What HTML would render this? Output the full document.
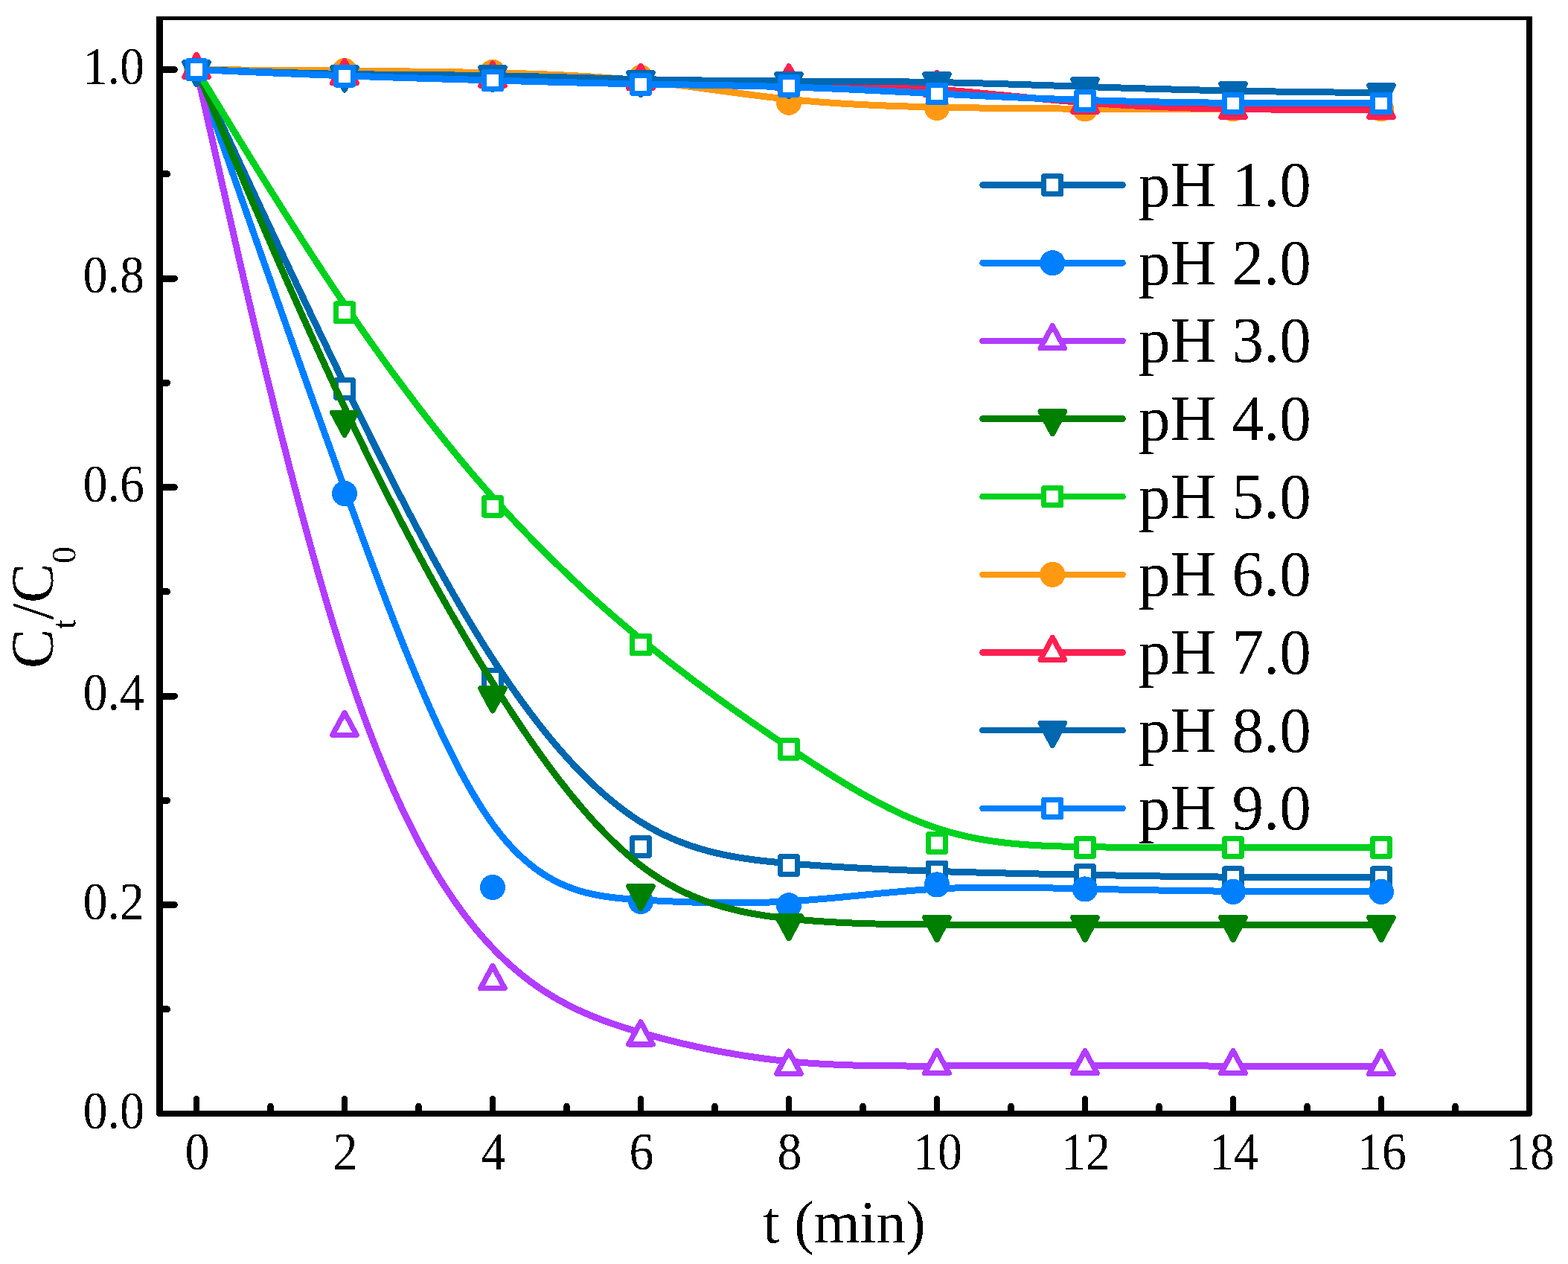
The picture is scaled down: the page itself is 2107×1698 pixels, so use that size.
<!DOCTYPE html>
<html lang="en"><head><meta charset="utf-8"><title>C_t/C_0 versus t (min) at pH 1.0 - 9.0</title>
<style>html,body{margin:0;padding:0;background:#fff;overflow:hidden}svg{display:block}text{font-family:"Liberation Serif",serif;fill:#000}</style>
</head><body>
<svg width="2107" height="1698" viewBox="0 0 2107 1698">
<defs><filter id="bw" x="-5%" y="-5%" width="110%" height="110%" color-interpolation-filters="sRGB"><feComponentTransfer><feFuncA type="discrete" tableValues="0 1"/></feComponentTransfer></filter></defs>
<rect width="2107" height="1698" fill="#fff"/>
<g id="plot" shape-rendering="crispEdges">
<g>
<path d="M264 93.5 L264 93.51 L264.02 93.54 L264.06 93.64 L264.15 93.83 L264.3 94.15 L264.52 94.62 L264.82 95.27 L265.23 96.15 L265.75 97.27 L266.4 98.67 L267.19 100.39 L268.15 102.44 L269.27 104.87 L270.58 107.7 L272.1 110.96 L273.83 114.69 L275.79 118.92 L277.99 123.68 L280.46 128.99 L283.19 134.89 L286.22 141.42 L289.55 148.59 L293.19 156.45 L297.17 165.03 L301.48 174.34 L306.13 184.35 L311.09 195.05 L316.36 206.39 L321.91 218.34 L327.74 230.86 L333.83 243.93 L340.16 257.51 L346.72 271.55 L353.5 286.04 L360.48 300.94 L367.65 316.21 L374.99 331.81 L382.48 347.72 L390.12 363.9 L397.9 380.32 L405.78 396.94 L413.77 413.73 L421.84 430.65 L429.99 447.68 L438.19 464.77 L446.44 481.9 L454.71 499.03 L463 516.12 L471.29 533.15 L479.58 550.1 L487.87 566.96 L496.17 583.73 L504.46 600.4 L512.75 616.95 L521.04 633.38 L529.33 649.67 L537.62 665.83 L545.92 681.83 L554.21 697.68 L562.5 713.36 L570.79 728.86 L579.08 744.17 L587.38 759.29 L595.67 774.21 L603.96 788.91 L612.25 803.39 L620.54 817.63 L628.83 831.64 L637.12 845.39 L645.42 858.89 L653.71 872.12 L662 885.07 L670.29 897.74 L678.58 910.11 L686.88 922.2 L695.17 933.99 L703.46 945.49 L711.75 956.68 L720.04 967.58 L728.33 978.17 L736.62 988.45 L744.92 998.43 L753.21 1008.09 L761.5 1017.44 L769.79 1026.47 L778.08 1035.18 L786.37 1043.57 L794.67 1051.64 L802.96 1059.38 L811.25 1066.79 L819.54 1073.87 L827.83 1080.61 L836.12 1087.02 L844.42 1093.08 L852.71 1098.81 L861 1104.19 L869.29 1109.22 L877.58 1113.93 L885.87 1118.31 L894.17 1122.38 L902.46 1126.16 L910.75 1129.66 L919.04 1132.89 L927.33 1135.87 L935.62 1138.6 L943.92 1141.11 L952.21 1143.4 L960.5 1145.5 L968.79 1147.4 L977.08 1149.13 L985.38 1150.7 L993.67 1152.13 L1001.96 1153.41 L1010.25 1154.58 L1018.54 1155.64 L1026.83 1156.6 L1035.12 1157.48 L1043.42 1158.3 L1051.71 1159.06 L1060 1159.77 L1068.29 1160.46 L1076.58 1161.12 L1084.88 1161.75 L1093.17 1162.36 L1101.46 1162.94 L1109.75 1163.5 L1118.04 1164.04 L1126.33 1164.55 L1134.62 1165.04 L1142.92 1165.52 L1151.21 1165.97 L1159.5 1166.4 L1167.79 1166.82 L1176.08 1167.21 L1184.38 1167.59 L1192.67 1167.96 L1200.96 1168.31 L1209.25 1168.65 L1217.54 1168.97 L1225.83 1169.29 L1234.12 1169.59 L1242.42 1169.88 L1250.71 1170.16 L1259 1170.43 L1267.29 1170.7 L1275.58 1170.96 L1283.87 1171.21 L1292.17 1171.45 L1300.46 1171.69 L1308.75 1171.92 L1317.04 1172.14 L1325.33 1172.36 L1333.62 1172.57 L1341.92 1172.78 L1350.21 1172.98 L1358.5 1173.17 L1366.79 1173.37 L1375.08 1173.55 L1383.38 1173.74 L1391.67 1173.92 L1399.96 1174.09 L1408.25 1174.27 L1416.54 1174.44 L1424.83 1174.6 L1433.12 1174.77 L1441.42 1174.93 L1449.71 1175.09 L1458 1175.25 L1466.29 1175.41 L1474.58 1175.56 L1482.88 1175.71 L1491.17 1175.87 L1499.46 1176.02 L1507.75 1176.16 L1516.04 1176.31 L1524.33 1176.45 L1532.62 1176.59 L1540.92 1176.72 L1549.21 1176.85 L1557.5 1176.98 L1565.79 1177.11 L1574.08 1177.23 L1582.37 1177.35 L1590.67 1177.46 L1598.96 1177.57 L1607.25 1177.67 L1615.54 1177.77 L1623.83 1177.87 L1632.12 1177.96 L1640.42 1178.04 L1648.71 1178.12 L1657 1178.19 L1665.29 1178.26 L1673.56 1178.32 L1681.81 1178.38 L1690.01 1178.43 L1698.16 1178.48 L1706.23 1178.52 L1714.22 1178.56 L1722.1 1178.59 L1729.88 1178.62 L1737.52 1178.64 L1745.01 1178.67 L1752.35 1178.68 L1759.52 1178.7 L1766.5 1178.71 L1773.28 1178.72 L1779.84 1178.73 L1786.17 1178.74 L1792.26 1178.75 L1798.09 1178.75 L1803.64 1178.75 L1808.91 1178.75 L1813.87 1178.75 L1818.52 1178.75 L1822.83 1178.75 L1826.81 1178.75 L1830.45 1178.75 L1833.78 1178.75 L1836.81 1178.75 L1839.54 1178.75 L1842.01 1178.75 L1844.21 1178.75 L1846.17 1178.75 L1847.9 1178.75 L1849.42 1178.75 L1850.73 1178.75 L1851.85 1178.75 L1852.81 1178.75 L1853.6 1178.75 L1854.25 1178.75 L1854.77 1178.75 L1855.18 1178.75 L1855.48 1178.75 L1855.7 1178.75 L1855.85 1178.75 L1855.94 1178.75 L1855.98 1178.75 L1856 1178.75 L1856 1178.75" fill="none" stroke="#0068B0" stroke-width="9" stroke-linecap="round" stroke-linejoin="round"/>
<rect x="252.5" y="81.7" width="23" height="23.6" fill="#fff" stroke="#0068B0" stroke-width="7" stroke-linejoin="round"/>
<rect x="451.5" y="510.87" width="23" height="23.6" fill="#fff" stroke="#0068B0" stroke-width="7" stroke-linejoin="round"/>
<rect x="650.5" y="900.76" width="23" height="23.6" fill="#fff" stroke="#0068B0" stroke-width="7" stroke-linejoin="round"/>
<rect x="849.5" y="1125.72" width="23" height="23.6" fill="#fff" stroke="#0068B0" stroke-width="7" stroke-linejoin="round"/>
<rect x="1048.5" y="1150.69" width="23" height="23.6" fill="#fff" stroke="#0068B0" stroke-width="7" stroke-linejoin="round"/>
<rect x="1247.5" y="1159.38" width="23" height="23.6" fill="#fff" stroke="#0068B0" stroke-width="7" stroke-linejoin="round"/>
<rect x="1446.5" y="1163.59" width="23" height="23.6" fill="#fff" stroke="#0068B0" stroke-width="7" stroke-linejoin="round"/>
<rect x="1645.5" y="1166.95" width="23" height="23.6" fill="#fff" stroke="#0068B0" stroke-width="7" stroke-linejoin="round"/>
<rect x="1844.5" y="1166.95" width="23" height="23.6" fill="#fff" stroke="#0068B0" stroke-width="7" stroke-linejoin="round"/>
</g>
<g>
<path d="M264 93.5 L264 93.51 L264.02 93.55 L264.06 93.69 L264.15 93.94 L264.3 94.36 L264.52 94.98 L264.82 95.85 L265.23 97.01 L265.75 98.5 L266.4 100.37 L267.19 102.64 L268.15 105.36 L269.27 108.58 L270.58 112.34 L272.1 116.67 L273.83 121.62 L275.79 127.23 L277.99 133.54 L280.46 140.59 L283.19 148.42 L286.22 157.08 L289.55 166.6 L293.19 177.03 L297.17 188.4 L301.48 200.75 L306.13 214.05 L311.09 228.24 L316.36 243.29 L321.91 259.15 L327.74 275.79 L333.83 293.14 L340.16 311.18 L346.72 329.85 L353.5 349.11 L360.48 368.92 L367.65 389.23 L374.99 410 L382.48 431.19 L390.12 452.75 L397.9 474.64 L405.78 496.81 L413.77 519.21 L421.84 541.82 L429.99 564.57 L438.19 587.43 L446.44 610.35 L454.71 633.29 L463 656.21 L471.29 679.05 L479.58 701.8 L487.87 724.4 L496.17 746.83 L504.46 769.06 L512.75 791.05 L521.04 812.76 L529.33 834.17 L537.62 855.23 L545.92 875.92 L554.21 896.19 L562.5 916.03 L570.79 935.38 L579.08 954.23 L587.38 972.53 L595.67 990.25 L603.96 1007.35 L612.25 1023.81 L620.54 1039.58 L628.83 1054.64 L637.12 1068.95 L645.42 1082.48 L653.71 1095.18 L662 1107.04 L670.29 1118.02 L678.58 1128.15 L686.88 1137.47 L695.17 1146.01 L703.46 1153.81 L711.75 1160.9 L720.04 1167.32 L728.33 1173.11 L736.62 1178.3 L744.92 1182.92 L753.21 1187.02 L761.5 1190.63 L769.79 1193.79 L778.08 1196.52 L786.37 1198.87 L794.67 1200.88 L802.96 1202.57 L811.25 1203.99 L819.54 1205.17 L827.83 1206.15 L836.12 1206.96 L844.42 1207.64 L852.71 1208.22 L861 1208.74 L869.29 1209.24 L877.58 1209.71 L885.87 1210.15 L894.17 1210.56 L902.46 1210.95 L910.75 1211.3 L919.04 1211.62 L927.33 1211.91 L935.62 1212.16 L943.92 1212.38 L952.21 1212.56 L960.5 1212.7 L968.79 1212.8 L977.08 1212.86 L985.38 1212.87 L993.67 1212.84 L1001.96 1212.76 L1010.25 1212.64 L1018.54 1212.46 L1026.83 1212.24 L1035.12 1211.96 L1043.42 1211.63 L1051.71 1211.24 L1060 1210.8 L1068.29 1210.3 L1076.58 1209.75 L1084.88 1209.15 L1093.17 1208.51 L1101.46 1207.83 L1109.75 1207.12 L1118.04 1206.37 L1126.33 1205.61 L1134.62 1204.82 L1142.92 1204.02 L1151.21 1203.21 L1159.5 1202.4 L1167.79 1201.59 L1176.08 1200.78 L1184.38 1199.99 L1192.67 1199.21 L1200.96 1198.45 L1209.25 1197.71 L1217.54 1197 L1225.83 1196.33 L1234.12 1195.7 L1242.42 1195.11 L1250.71 1194.57 L1259 1194.09 L1267.29 1193.66 L1275.58 1193.29 L1283.87 1192.97 L1292.17 1192.71 L1300.46 1192.49 L1308.75 1192.32 L1317.04 1192.19 L1325.33 1192.1 L1333.62 1192.05 L1341.92 1192.04 L1350.21 1192.05 L1358.5 1192.1 L1366.79 1192.17 L1375.08 1192.27 L1383.38 1192.39 L1391.67 1192.53 L1399.96 1192.69 L1408.25 1192.86 L1416.54 1193.04 L1424.83 1193.23 L1433.12 1193.42 L1441.42 1193.62 L1449.71 1193.82 L1458 1194.02 L1466.29 1194.21 L1474.58 1194.4 L1482.88 1194.58 L1491.17 1194.76 L1499.46 1194.94 L1507.75 1195.11 L1516.04 1195.27 L1524.33 1195.43 L1532.62 1195.59 L1540.92 1195.74 L1549.21 1195.88 L1557.5 1196.02 L1565.79 1196.15 L1574.08 1196.28 L1582.37 1196.41 L1590.67 1196.52 L1598.96 1196.64 L1607.25 1196.74 L1615.54 1196.84 L1623.83 1196.94 L1632.12 1197.03 L1640.42 1197.12 L1648.71 1197.19 L1657 1197.27 L1665.29 1197.33 L1673.56 1197.4 L1681.81 1197.45 L1690.01 1197.5 L1698.16 1197.55 L1706.23 1197.59 L1714.22 1197.63 L1722.1 1197.66 L1729.88 1197.69 L1737.52 1197.72 L1745.01 1197.74 L1752.35 1197.76 L1759.52 1197.77 L1766.5 1197.79 L1773.28 1197.8 L1779.84 1197.81 L1786.17 1197.81 L1792.26 1197.82 L1798.09 1197.82 L1803.64 1197.83 L1808.91 1197.83 L1813.87 1197.83 L1818.52 1197.83 L1822.83 1197.83 L1826.81 1197.83 L1830.45 1197.83 L1833.78 1197.83 L1836.81 1197.83 L1839.54 1197.83 L1842.01 1197.83 L1844.21 1197.83 L1846.17 1197.83 L1847.9 1197.83 L1849.42 1197.83 L1850.73 1197.83 L1851.85 1197.83 L1852.81 1197.83 L1853.6 1197.83 L1854.25 1197.83 L1854.77 1197.83 L1855.18 1197.83 L1855.48 1197.83 L1855.7 1197.83 L1855.85 1197.83 L1855.94 1197.83 L1855.98 1197.83 L1856 1197.83 L1856 1197.83" fill="none" stroke="#0080FF" stroke-width="9" stroke-linecap="round" stroke-linejoin="round"/>
<circle cx="264" cy="93.5" r="17.1" fill="#0080FF"/>
<circle cx="463" cy="662.92" r="17.1" fill="#0080FF"/>
<circle cx="662" cy="1192.08" r="17.1" fill="#0080FF"/>
<circle cx="861" cy="1211.01" r="17.1" fill="#0080FF"/>
<circle cx="1060" cy="1216.34" r="17.1" fill="#0080FF"/>
<circle cx="1259" cy="1188.43" r="17.1" fill="#0080FF"/>
<circle cx="1458" cy="1194.46" r="17.1" fill="#0080FF"/>
<circle cx="1657" cy="1197.83" r="17.1" fill="#0080FF"/>
<circle cx="1856" cy="1197.83" r="17.1" fill="#0080FF"/>
</g>
<g>
<path d="M264 93.5 L264 93.51 L264.02 93.59 L264.06 93.79 L264.15 94.18 L264.3 94.83 L264.52 95.8 L264.82 97.16 L265.23 98.96 L265.75 101.27 L266.4 104.16 L267.19 107.69 L268.15 111.92 L269.27 116.92 L270.58 122.74 L272.1 129.47 L273.83 137.15 L275.79 145.86 L277.99 155.66 L280.46 166.6 L283.19 178.76 L286.22 192.2 L289.55 206.98 L293.19 223.17 L297.17 240.83 L301.48 260 L306.13 280.6 L311.09 302.52 L316.36 325.68 L321.91 349.95 L327.74 375.24 L333.83 401.45 L340.16 428.46 L346.72 456.19 L353.5 484.52 L360.48 513.35 L367.65 542.59 L374.99 572.11 L382.48 601.83 L390.12 631.64 L397.9 661.44 L405.78 691.11 L413.77 720.57 L421.84 749.7 L429.99 778.4 L438.19 806.57 L446.44 834.11 L454.71 860.91 L463 886.87 L471.29 911.91 L479.58 936.02 L487.87 959.23 L496.17 981.55 L504.46 1003.02 L512.75 1023.64 L521.04 1043.43 L529.33 1062.42 L537.62 1080.63 L545.92 1098.08 L554.21 1114.79 L562.5 1130.77 L570.79 1146.05 L579.08 1160.65 L587.38 1174.59 L595.67 1187.89 L603.96 1200.56 L612.25 1212.64 L620.54 1224.13 L628.83 1235.06 L637.12 1245.45 L645.42 1255.33 L653.71 1264.7 L662 1273.59 L670.29 1282.02 L678.58 1290 L686.88 1297.56 L695.17 1304.71 L703.46 1311.47 L711.75 1317.85 L720.04 1323.87 L728.33 1329.54 L736.62 1334.89 L744.92 1339.93 L753.21 1344.67 L761.5 1349.13 L769.79 1353.34 L778.08 1357.29 L786.37 1361.02 L794.67 1364.54 L802.96 1367.87 L811.25 1371.01 L819.54 1374 L827.83 1376.84 L836.12 1379.55 L844.42 1382.15 L852.71 1384.65 L861 1387.07 L869.29 1389.43 L877.58 1391.73 L885.87 1393.96 L894.17 1396.13 L902.46 1398.24 L910.75 1400.28 L919.04 1402.26 L927.33 1404.17 L935.62 1406.02 L943.92 1407.81 L952.21 1409.53 L960.5 1411.18 L968.79 1412.77 L977.08 1414.29 L985.38 1415.75 L993.67 1417.13 L1001.96 1418.46 L1010.25 1419.71 L1018.54 1420.9 L1026.83 1422.02 L1035.12 1423.07 L1043.42 1424.05 L1051.71 1424.96 L1060 1425.8 L1068.29 1426.58 L1076.58 1427.29 L1084.88 1427.93 L1093.17 1428.52 L1101.46 1429.05 L1109.75 1429.52 L1118.04 1429.94 L1126.33 1430.31 L1134.62 1430.63 L1142.92 1430.92 L1151.21 1431.16 L1159.5 1431.37 L1167.79 1431.54 L1176.08 1431.68 L1184.38 1431.79 L1192.67 1431.87 L1200.96 1431.94 L1209.25 1431.98 L1217.54 1432.01 L1225.83 1432.02 L1234.12 1432.03 L1242.42 1432.02 L1250.71 1432.01 L1259 1432 L1267.29 1431.99 L1275.58 1431.98 L1283.87 1431.97 L1292.17 1431.96 L1300.46 1431.95 L1308.75 1431.95 L1317.04 1431.94 L1325.33 1431.93 L1333.62 1431.93 L1341.92 1431.92 L1350.21 1431.92 L1358.5 1431.92 L1366.79 1431.91 L1375.08 1431.91 L1383.38 1431.91 L1391.67 1431.91 L1399.96 1431.91 L1408.25 1431.91 L1416.54 1431.91 L1424.83 1431.91 L1433.12 1431.91 L1441.42 1431.91 L1449.71 1431.91 L1458 1431.91 L1466.29 1431.91 L1474.58 1431.91 L1482.88 1431.91 L1491.17 1431.91 L1499.46 1431.91 L1507.75 1431.91 L1516.04 1431.91 L1524.33 1431.91 L1532.62 1431.91 L1540.92 1431.92 L1549.21 1431.92 L1557.5 1431.93 L1565.79 1431.93 L1574.08 1431.94 L1582.37 1431.95 L1590.67 1431.95 L1598.96 1431.96 L1607.25 1431.97 L1615.54 1431.99 L1623.83 1432 L1632.12 1432.02 L1640.42 1432.03 L1648.71 1432.05 L1657 1432.07 L1665.29 1432.09 L1673.56 1432.11 L1681.81 1432.14 L1690.01 1432.16 L1698.16 1432.19 L1706.23 1432.22 L1714.22 1432.25 L1722.1 1432.28 L1729.88 1432.31 L1737.52 1432.34 L1745.01 1432.37 L1752.35 1432.4 L1759.52 1432.43 L1766.5 1432.46 L1773.28 1432.49 L1779.84 1432.52 L1786.17 1432.55 L1792.26 1432.58 L1798.09 1432.6 L1803.64 1432.63 L1808.91 1432.66 L1813.87 1432.68 L1818.52 1432.7 L1822.83 1432.72 L1826.81 1432.74 L1830.45 1432.76 L1833.78 1432.78 L1836.81 1432.79 L1839.54 1432.81 L1842.01 1432.82 L1844.21 1432.83 L1846.17 1432.84 L1847.9 1432.85 L1849.42 1432.86 L1850.73 1432.86 L1851.85 1432.87 L1852.81 1432.87 L1853.6 1432.88 L1854.25 1432.88 L1854.77 1432.88 L1855.18 1432.88 L1855.48 1432.88 L1855.7 1432.89 L1855.85 1432.89 L1855.94 1432.89 L1855.98 1432.89 L1856 1432.89 L1856 1432.89" fill="none" stroke="#B23CFF" stroke-width="9" stroke-linecap="round" stroke-linejoin="round"/>
<path d="M264 73.25L280.25 103.35L247.75 103.35Z" fill="#fff" stroke="#B23CFF" stroke-width="7.2" stroke-linejoin="round"/>
<path d="M463 957.25L479.25 987.35L446.75 987.35Z" fill="#fff" stroke="#B23CFF" stroke-width="7.2" stroke-linejoin="round"/>
<path d="M662 1297.49L678.25 1327.59L645.75 1327.59Z" fill="#fff" stroke="#B23CFF" stroke-width="7.2" stroke-linejoin="round"/>
<path d="M861 1372.81L877.25 1402.91L844.75 1402.91Z" fill="#fff" stroke="#B23CFF" stroke-width="7.2" stroke-linejoin="round"/>
<path d="M1060 1412.22L1076.25 1442.32L1043.75 1442.32Z" fill="#fff" stroke="#B23CFF" stroke-width="7.2" stroke-linejoin="round"/>
<path d="M1259 1411.66L1275.25 1441.76L1242.75 1441.76Z" fill="#fff" stroke="#B23CFF" stroke-width="7.2" stroke-linejoin="round"/>
<path d="M1458 1411.66L1474.25 1441.76L1441.75 1441.76Z" fill="#fff" stroke="#B23CFF" stroke-width="7.2" stroke-linejoin="round"/>
<path d="M1657 1411.66L1673.25 1441.76L1640.75 1441.76Z" fill="#fff" stroke="#B23CFF" stroke-width="7.2" stroke-linejoin="round"/>
<path d="M1856 1412.64L1872.25 1442.74L1839.75 1442.74Z" fill="#fff" stroke="#B23CFF" stroke-width="7.2" stroke-linejoin="round"/>
</g>
<g>
<path d="M264 93.5 L264 93.51 L264.02 93.55 L264.06 93.65 L264.15 93.86 L264.3 94.21 L264.52 94.73 L264.82 95.45 L265.23 96.4 L265.75 97.64 L266.4 99.17 L267.19 101.05 L268.15 103.3 L269.27 105.96 L270.58 109.07 L272.1 112.65 L273.83 116.74 L275.79 121.37 L277.99 126.58 L280.46 132.41 L283.19 138.88 L286.22 146.04 L289.55 153.91 L293.19 162.52 L297.17 171.92 L301.48 182.13 L306.13 193.11 L311.09 204.82 L316.36 217.23 L321.91 230.29 L327.74 243.96 L333.83 258.2 L340.16 272.97 L346.72 288.22 L353.5 303.92 L360.48 320.02 L367.65 336.49 L374.99 353.28 L382.48 370.35 L390.12 387.65 L397.9 405.16 L405.78 422.82 L413.77 440.6 L421.84 458.45 L429.99 476.33 L438.19 494.21 L446.44 512.04 L454.71 529.77 L463 547.37 L471.29 564.81 L479.58 582.07 L487.87 599.16 L496.17 616.07 L504.46 632.81 L512.75 649.37 L521.04 665.76 L529.33 681.97 L537.62 698 L545.92 713.86 L554.21 729.54 L562.5 745.04 L570.79 760.36 L579.08 775.51 L587.38 790.48 L595.67 805.27 L603.96 819.88 L612.25 834.31 L620.54 848.56 L628.83 862.63 L637.12 876.52 L645.42 890.22 L653.71 903.75 L662 917.09 L670.29 930.26 L678.58 943.23 L686.88 956 L695.17 968.56 L703.46 980.9 L711.75 993.02 L720.04 1004.91 L728.33 1016.55 L736.62 1027.94 L744.92 1039.07 L753.21 1049.93 L761.5 1060.51 L769.79 1070.81 L778.08 1080.81 L786.37 1090.51 L794.67 1099.89 L802.96 1108.95 L811.25 1117.68 L819.54 1126.08 L827.83 1134.12 L836.12 1141.81 L844.42 1149.13 L852.71 1156.08 L861 1162.65 L869.29 1168.83 L877.58 1174.63 L885.87 1180.07 L894.17 1185.15 L902.46 1189.9 L910.75 1194.33 L919.04 1198.44 L927.33 1202.26 L935.62 1205.8 L943.92 1209.06 L952.21 1212.07 L960.5 1214.84 L968.79 1217.38 L977.08 1219.7 L985.38 1221.83 L993.67 1223.76 L1001.96 1225.52 L1010.25 1227.11 L1018.54 1228.56 L1026.83 1229.88 L1035.12 1231.07 L1043.42 1232.16 L1051.71 1233.15 L1060 1234.06 L1068.29 1234.9 L1076.58 1235.68 L1084.88 1236.4 L1093.17 1237.06 L1101.46 1237.66 L1109.75 1238.21 L1118.04 1238.71 L1126.33 1239.16 L1134.62 1239.57 L1142.92 1239.93 L1151.21 1240.25 L1159.5 1240.54 L1167.79 1240.79 L1176.08 1241 L1184.38 1241.19 L1192.67 1241.35 L1200.96 1241.49 L1209.25 1241.6 L1217.54 1241.7 L1225.83 1241.78 L1234.12 1241.84 L1242.42 1241.9 L1250.71 1241.94 L1259 1241.98 L1267.29 1242.02 L1275.58 1242.05 L1283.87 1242.08 L1292.17 1242.11 L1300.46 1242.14 L1308.75 1242.16 L1317.04 1242.18 L1325.33 1242.2 L1333.62 1242.21 L1341.92 1242.23 L1350.21 1242.24 L1358.5 1242.25 L1366.79 1242.26 L1375.08 1242.27 L1383.38 1242.27 L1391.67 1242.28 L1399.96 1242.28 L1408.25 1242.28 L1416.54 1242.29 L1424.83 1242.29 L1433.12 1242.29 L1441.42 1242.29 L1449.71 1242.29 L1458 1242.29 L1466.29 1242.29 L1474.58 1242.29 L1482.88 1242.29 L1491.17 1242.29 L1499.46 1242.29 L1507.75 1242.29 L1516.04 1242.29 L1524.33 1242.29 L1532.62 1242.29 L1540.92 1242.29 L1549.21 1242.29 L1557.5 1242.29 L1565.79 1242.29 L1574.08 1242.29 L1582.37 1242.29 L1590.67 1242.29 L1598.96 1242.29 L1607.25 1242.29 L1615.54 1242.29 L1623.83 1242.29 L1632.12 1242.29 L1640.42 1242.29 L1648.71 1242.29 L1657 1242.29 L1665.29 1242.29 L1673.56 1242.29 L1681.81 1242.29 L1690.01 1242.29 L1698.16 1242.29 L1706.23 1242.29 L1714.22 1242.29 L1722.1 1242.29 L1729.88 1242.29 L1737.52 1242.29 L1745.01 1242.29 L1752.35 1242.29 L1759.52 1242.29 L1766.5 1242.29 L1773.28 1242.29 L1779.84 1242.29 L1786.17 1242.29 L1792.26 1242.29 L1798.09 1242.29 L1803.64 1242.29 L1808.91 1242.29 L1813.87 1242.29 L1818.52 1242.29 L1822.83 1242.29 L1826.81 1242.29 L1830.45 1242.29 L1833.78 1242.29 L1836.81 1242.29 L1839.54 1242.29 L1842.01 1242.29 L1844.21 1242.29 L1846.17 1242.29 L1847.9 1242.29 L1849.42 1242.29 L1850.73 1242.29 L1851.85 1242.29 L1852.81 1242.29 L1853.6 1242.29 L1854.25 1242.29 L1854.77 1242.29 L1855.18 1242.29 L1855.48 1242.29 L1855.7 1242.29 L1855.85 1242.29 L1855.94 1242.29 L1855.98 1242.29 L1856 1242.29 L1856 1242.29" fill="none" stroke="#008000" stroke-width="9" stroke-linecap="round" stroke-linejoin="round"/>
<path d="M264 113.75L280.25 83.65L247.75 83.65Z" fill="#008000" stroke="#008000" stroke-width="7.2" stroke-linejoin="round"/>
<path d="M463 584.29L479.25 554.19L446.75 554.19Z" fill="#008000" stroke="#008000" stroke-width="7.2" stroke-linejoin="round"/>
<path d="M662 954.83L678.25 924.73L645.75 924.73Z" fill="#008000" stroke="#008000" stroke-width="7.2" stroke-linejoin="round"/>
<path d="M861 1220.46L877.25 1190.36L844.75 1190.36Z" fill="#008000" stroke="#008000" stroke-width="7.2" stroke-linejoin="round"/>
<path d="M1060 1260.71L1076.25 1230.61L1043.75 1230.61Z" fill="#008000" stroke="#008000" stroke-width="7.2" stroke-linejoin="round"/>
<path d="M1259 1262.54L1275.25 1232.44L1242.75 1232.44Z" fill="#008000" stroke="#008000" stroke-width="7.2" stroke-linejoin="round"/>
<path d="M1458 1262.54L1474.25 1232.44L1441.75 1232.44Z" fill="#008000" stroke="#008000" stroke-width="7.2" stroke-linejoin="round"/>
<path d="M1657 1262.54L1673.25 1232.44L1640.75 1232.44Z" fill="#008000" stroke="#008000" stroke-width="7.2" stroke-linejoin="round"/>
<path d="M1856 1262.54L1872.25 1232.44L1839.75 1232.44Z" fill="#008000" stroke="#008000" stroke-width="7.2" stroke-linejoin="round"/>
</g>
<g>
<path d="M264 93.5 L264 93.5 L264.02 93.53 L264.06 93.61 L264.15 93.75 L264.3 93.99 L264.52 94.35 L264.82 94.85 L265.23 95.51 L265.75 96.37 L266.4 97.43 L267.19 98.73 L268.15 100.3 L269.27 102.14 L270.58 104.29 L272.1 106.77 L273.83 109.61 L275.79 112.82 L277.99 116.44 L280.46 120.48 L283.19 124.96 L286.22 129.92 L289.55 135.38 L293.19 141.35 L297.17 147.87 L301.48 154.94 L306.13 162.56 L311.09 170.68 L316.36 179.28 L321.91 188.34 L327.74 197.82 L333.83 207.7 L340.16 217.95 L346.72 228.53 L353.5 239.43 L360.48 250.61 L367.65 262.04 L374.99 273.7 L382.48 285.56 L390.12 297.58 L397.9 309.75 L405.78 322.03 L413.77 334.4 L421.84 346.82 L429.99 359.27 L438.19 371.72 L446.44 384.14 L454.71 396.5 L463 408.78 L471.29 420.95 L479.58 433 L487.87 444.94 L496.17 456.76 L504.46 468.47 L512.75 480.06 L521.04 491.53 L529.33 502.88 L537.62 514.11 L545.92 525.22 L554.21 536.22 L562.5 547.09 L570.79 557.83 L579.08 568.46 L587.38 578.96 L595.67 589.34 L603.96 599.59 L612.25 609.72 L620.54 619.73 L628.83 629.6 L637.12 639.35 L645.42 648.97 L653.71 658.46 L662 667.82 L670.29 677.06 L678.58 686.16 L686.88 695.14 L695.17 704 L703.46 712.73 L711.75 721.35 L720.04 729.84 L728.33 738.23 L736.62 746.5 L744.92 754.66 L753.21 762.71 L761.5 770.65 L769.79 778.49 L778.08 786.23 L786.37 793.87 L794.67 801.41 L802.96 808.85 L811.25 816.2 L819.54 823.46 L827.83 830.63 L836.12 837.72 L844.42 844.72 L852.71 851.63 L861 858.47 L869.29 865.23 L877.58 871.91 L885.87 878.52 L894.17 885.05 L902.46 891.52 L910.75 897.92 L919.04 904.25 L927.33 910.52 L935.62 916.73 L943.92 922.88 L952.21 928.98 L960.5 935.02 L968.79 941.01 L977.08 946.95 L985.38 952.84 L993.67 958.69 L1001.96 964.5 L1010.25 970.26 L1018.54 975.99 L1026.83 981.68 L1035.12 987.33 L1043.42 992.96 L1051.71 998.55 L1060 1004.12 L1068.29 1009.66 L1076.58 1015.17 L1084.88 1020.64 L1093.17 1026.06 L1101.46 1031.42 L1109.75 1036.72 L1118.04 1041.95 L1126.33 1047.1 L1134.62 1052.17 L1142.92 1057.14 L1151.21 1062.01 L1159.5 1066.77 L1167.79 1071.41 L1176.08 1075.93 L1184.38 1080.32 L1192.67 1084.57 L1200.96 1088.67 L1209.25 1092.61 L1217.54 1096.4 L1225.83 1100.01 L1234.12 1103.44 L1242.42 1106.69 L1250.71 1109.75 L1259 1112.6 L1267.29 1115.25 L1275.58 1117.7 L1283.87 1119.96 L1292.17 1122.03 L1300.46 1123.93 L1308.75 1125.66 L1317.04 1127.24 L1325.33 1128.66 L1333.62 1129.94 L1341.92 1131.08 L1350.21 1132.1 L1358.5 1133 L1366.79 1133.79 L1375.08 1134.48 L1383.38 1135.08 L1391.67 1135.59 L1399.96 1136.03 L1408.25 1136.4 L1416.54 1136.71 L1424.83 1136.96 L1433.12 1137.18 L1441.42 1137.35 L1449.71 1137.51 L1458 1137.64 L1466.29 1137.76 L1474.58 1137.87 L1482.88 1137.97 L1491.17 1138.06 L1499.46 1138.14 L1507.75 1138.22 L1516.04 1138.29 L1524.33 1138.35 L1532.62 1138.4 L1540.92 1138.44 L1549.21 1138.48 L1557.5 1138.52 L1565.79 1138.55 L1574.08 1138.57 L1582.37 1138.59 L1590.67 1138.61 L1598.96 1138.62 L1607.25 1138.63 L1615.54 1138.63 L1623.83 1138.64 L1632.12 1138.64 L1640.42 1138.64 L1648.71 1138.64 L1657 1138.64 L1665.29 1138.64 L1673.56 1138.64 L1681.81 1138.64 L1690.01 1138.64 L1698.16 1138.64 L1706.23 1138.64 L1714.22 1138.64 L1722.1 1138.64 L1729.88 1138.64 L1737.52 1138.64 L1745.01 1138.64 L1752.35 1138.64 L1759.52 1138.64 L1766.5 1138.64 L1773.28 1138.64 L1779.84 1138.64 L1786.17 1138.64 L1792.26 1138.64 L1798.09 1138.64 L1803.64 1138.64 L1808.91 1138.64 L1813.87 1138.64 L1818.52 1138.64 L1822.83 1138.64 L1826.81 1138.64 L1830.45 1138.64 L1833.78 1138.64 L1836.81 1138.64 L1839.54 1138.64 L1842.01 1138.64 L1844.21 1138.64 L1846.17 1138.64 L1847.9 1138.64 L1849.42 1138.64 L1850.73 1138.64 L1851.85 1138.64 L1852.81 1138.64 L1853.6 1138.64 L1854.25 1138.64 L1854.77 1138.64 L1855.18 1138.64 L1855.48 1138.64 L1855.7 1138.64 L1855.85 1138.64 L1855.94 1138.64 L1855.98 1138.64 L1856 1138.64 L1856 1138.64" fill="none" stroke="#00D21E" stroke-width="9" stroke-linecap="round" stroke-linejoin="round"/>
<rect x="252.5" y="81.7" width="23" height="23.6" fill="#fff" stroke="#00D21E" stroke-width="7" stroke-linejoin="round"/>
<rect x="451.5" y="407.92" width="23" height="23.6" fill="#fff" stroke="#00D21E" stroke-width="7" stroke-linejoin="round"/>
<rect x="650.5" y="668.51" width="23" height="23.6" fill="#fff" stroke="#00D21E" stroke-width="7" stroke-linejoin="round"/>
<rect x="849.5" y="854.2" width="23" height="23.6" fill="#fff" stroke="#00D21E" stroke-width="7" stroke-linejoin="round"/>
<rect x="1048.5" y="994.73" width="23" height="23.6" fill="#fff" stroke="#00D21E" stroke-width="7" stroke-linejoin="round"/>
<rect x="1247.5" y="1120.81" width="23" height="23.6" fill="#fff" stroke="#00D21E" stroke-width="7" stroke-linejoin="round"/>
<rect x="1446.5" y="1126.84" width="23" height="23.6" fill="#fff" stroke="#00D21E" stroke-width="7" stroke-linejoin="round"/>
<rect x="1645.5" y="1126.84" width="23" height="23.6" fill="#fff" stroke="#00D21E" stroke-width="7" stroke-linejoin="round"/>
<rect x="1844.5" y="1126.84" width="23" height="23.6" fill="#fff" stroke="#00D21E" stroke-width="7" stroke-linejoin="round"/>
</g>
<g>
<path d="M264 93.5 L264 93.5 L264.02 93.5 L264.06 93.5 L264.15 93.5 L264.3 93.5 L264.52 93.5 L264.82 93.51 L265.23 93.51 L265.75 93.51 L266.4 93.52 L267.19 93.53 L268.15 93.54 L269.27 93.54 L270.58 93.56 L272.1 93.57 L273.83 93.58 L275.79 93.6 L277.99 93.62 L280.46 93.64 L283.19 93.66 L286.22 93.69 L289.55 93.72 L293.19 93.75 L297.17 93.78 L301.48 93.82 L306.13 93.86 L311.09 93.9 L316.36 93.94 L321.91 93.99 L327.74 94.04 L333.83 94.09 L340.16 94.14 L346.72 94.2 L353.5 94.26 L360.48 94.32 L367.65 94.38 L374.99 94.44 L382.48 94.5 L390.12 94.57 L397.9 94.63 L405.78 94.7 L413.77 94.77 L421.84 94.83 L429.99 94.9 L438.19 94.97 L446.44 95.04 L454.71 95.11 L463 95.18 L471.29 95.25 L479.58 95.32 L487.87 95.4 L496.17 95.47 L504.46 95.54 L512.75 95.62 L521.04 95.7 L529.33 95.78 L537.62 95.86 L545.92 95.95 L554.21 96.04 L562.5 96.14 L570.79 96.24 L579.08 96.35 L587.38 96.46 L595.67 96.58 L603.96 96.71 L612.25 96.84 L620.54 96.98 L628.83 97.13 L637.12 97.28 L645.42 97.45 L653.71 97.62 L662 97.8 L670.29 97.99 L678.58 98.2 L686.88 98.41 L695.17 98.64 L703.46 98.89 L711.75 99.15 L720.04 99.43 L728.33 99.74 L736.62 100.06 L744.92 100.41 L753.21 100.78 L761.5 101.18 L769.79 101.6 L778.08 102.06 L786.37 102.54 L794.67 103.06 L802.96 103.61 L811.25 104.19 L819.54 104.82 L827.83 105.48 L836.12 106.18 L844.42 106.92 L852.71 107.7 L861 108.53 L869.29 109.4 L877.58 110.32 L885.87 111.27 L894.17 112.25 L902.46 113.27 L910.75 114.31 L919.04 115.38 L927.33 116.47 L935.62 117.57 L943.92 118.68 L952.21 119.8 L960.5 120.92 L968.79 122.04 L977.08 123.16 L985.38 124.27 L993.67 125.37 L1001.96 126.46 L1010.25 127.52 L1018.54 128.57 L1026.83 129.58 L1035.12 130.57 L1043.42 131.52 L1051.71 132.44 L1060 133.31 L1068.29 134.14 L1076.58 134.92 L1084.88 135.66 L1093.17 136.36 L1101.46 137.02 L1109.75 137.64 L1118.04 138.23 L1126.33 138.78 L1134.62 139.29 L1142.92 139.78 L1151.21 140.23 L1159.5 140.66 L1167.79 141.05 L1176.08 141.42 L1184.38 141.77 L1192.67 142.09 L1200.96 142.39 L1209.25 142.67 L1217.54 142.93 L1225.83 143.17 L1234.12 143.39 L1242.42 143.61 L1250.71 143.8 L1259 143.99 L1267.29 144.17 L1275.58 144.33 L1283.87 144.49 L1292.17 144.64 L1300.46 144.77 L1308.75 144.9 L1317.04 145.03 L1325.33 145.14 L1333.62 145.25 L1341.92 145.34 L1350.21 145.44 L1358.5 145.52 L1366.79 145.6 L1375.08 145.67 L1383.38 145.74 L1391.67 145.8 L1399.96 145.86 L1408.25 145.91 L1416.54 145.96 L1424.83 146 L1433.12 146.04 L1441.42 146.08 L1449.71 146.11 L1458 146.14 L1466.29 146.17 L1474.58 146.19 L1482.88 146.22 L1491.17 146.24 L1499.46 146.26 L1507.75 146.28 L1516.04 146.29 L1524.33 146.3 L1532.62 146.32 L1540.92 146.33 L1549.21 146.34 L1557.5 146.35 L1565.79 146.35 L1574.08 146.36 L1582.37 146.36 L1590.67 146.37 L1598.96 146.37 L1607.25 146.37 L1615.54 146.37 L1623.83 146.37 L1632.12 146.37 L1640.42 146.37 L1648.71 146.37 L1657 146.37 L1665.29 146.37 L1673.56 146.37 L1681.81 146.37 L1690.01 146.37 L1698.16 146.37 L1706.23 146.37 L1714.22 146.37 L1722.1 146.37 L1729.88 146.37 L1737.52 146.37 L1745.01 146.37 L1752.35 146.37 L1759.52 146.37 L1766.5 146.37 L1773.28 146.37 L1779.84 146.37 L1786.17 146.37 L1792.26 146.37 L1798.09 146.37 L1803.64 146.37 L1808.91 146.37 L1813.87 146.37 L1818.52 146.37 L1822.83 146.37 L1826.81 146.37 L1830.45 146.37 L1833.78 146.37 L1836.81 146.37 L1839.54 146.37 L1842.01 146.37 L1844.21 146.37 L1846.17 146.37 L1847.9 146.37 L1849.42 146.37 L1850.73 146.37 L1851.85 146.37 L1852.81 146.37 L1853.6 146.37 L1854.25 146.37 L1854.77 146.37 L1855.18 146.37 L1855.48 146.37 L1855.7 146.37 L1855.85 146.37 L1855.94 146.37 L1855.98 146.37 L1856 146.37 L1856 146.37" fill="none" stroke="#FF9912" stroke-width="9" stroke-linecap="round" stroke-linejoin="round"/>
<circle cx="264" cy="93.5" r="17.1" fill="#FF9912"/>
<circle cx="463" cy="95.18" r="17.1" fill="#FF9912"/>
<circle cx="662" cy="96.87" r="17.1" fill="#FF9912"/>
<circle cx="861" cy="104.16" r="17.1" fill="#FF9912"/>
<circle cx="1060" cy="137.68" r="17.1" fill="#FF9912"/>
<circle cx="1259" cy="144.97" r="17.1" fill="#FF9912"/>
<circle cx="1458" cy="146.37" r="17.1" fill="#FF9912"/>
<circle cx="1657" cy="146.37" r="17.1" fill="#FF9912"/>
<circle cx="1856" cy="146.37" r="17.1" fill="#FF9912"/>
</g>
<g>
<path d="M264 93.5 L264 93.5 L264.02 93.5 L264.06 93.5 L264.15 93.51 L264.3 93.51 L264.52 93.52 L264.82 93.53 L265.23 93.55 L265.75 93.57 L266.4 93.6 L267.19 93.64 L268.15 93.68 L269.27 93.72 L270.58 93.78 L272.1 93.84 L273.83 93.92 L275.79 94 L277.99 94.09 L280.46 94.2 L283.19 94.31 L286.22 94.44 L289.55 94.58 L293.19 94.73 L297.17 94.9 L301.48 95.08 L306.13 95.28 L311.09 95.49 L316.36 95.71 L321.91 95.94 L327.74 96.18 L333.83 96.43 L340.16 96.69 L346.72 96.95 L353.5 97.22 L360.48 97.5 L367.65 97.78 L374.99 98.06 L382.48 98.34 L390.12 98.63 L397.9 98.91 L405.78 99.2 L413.77 99.48 L421.84 99.76 L429.99 100.03 L438.19 100.3 L446.44 100.57 L454.71 100.82 L463 101.07 L471.29 101.31 L479.58 101.55 L487.87 101.77 L496.17 101.99 L504.46 102.2 L512.75 102.4 L521.04 102.6 L529.33 102.79 L537.62 102.97 L545.92 103.15 L554.21 103.33 L562.5 103.5 L570.79 103.66 L579.08 103.82 L587.38 103.98 L595.67 104.13 L603.96 104.29 L612.25 104.44 L620.54 104.58 L628.83 104.73 L637.12 104.87 L645.42 105.02 L653.71 105.16 L662 105.3 L670.29 105.45 L678.58 105.59 L686.88 105.73 L695.17 105.88 L703.46 106.02 L711.75 106.16 L720.04 106.3 L728.33 106.44 L736.62 106.57 L744.92 106.71 L753.21 106.84 L761.5 106.97 L769.79 107.1 L778.08 107.22 L786.37 107.34 L794.67 107.46 L802.96 107.57 L811.25 107.68 L819.54 107.79 L827.83 107.89 L836.12 107.99 L844.42 108.08 L852.71 108.17 L861 108.25 L869.29 108.33 L877.58 108.4 L885.87 108.46 L894.17 108.53 L902.46 108.59 L910.75 108.65 L919.04 108.71 L927.33 108.77 L935.62 108.83 L943.92 108.9 L952.21 108.96 L960.5 109.03 L968.79 109.1 L977.08 109.18 L985.38 109.27 L993.67 109.36 L1001.96 109.45 L1010.25 109.56 L1018.54 109.68 L1026.83 109.8 L1035.12 109.94 L1043.42 110.09 L1051.71 110.25 L1060 110.42 L1068.29 110.61 L1076.58 110.81 L1084.88 111.03 L1093.17 111.27 L1101.46 111.52 L1109.75 111.78 L1118.04 112.06 L1126.33 112.36 L1134.62 112.68 L1142.92 113.02 L1151.21 113.37 L1159.5 113.75 L1167.79 114.14 L1176.08 114.56 L1184.38 114.99 L1192.67 115.45 L1200.96 115.93 L1209.25 116.43 L1217.54 116.95 L1225.83 117.49 L1234.12 118.06 L1242.42 118.65 L1250.71 119.27 L1259 119.91 L1267.29 120.58 L1275.58 121.27 L1283.87 121.98 L1292.17 122.71 L1300.46 123.46 L1308.75 124.22 L1317.04 124.99 L1325.33 125.77 L1333.62 126.56 L1341.92 127.36 L1350.21 128.15 L1358.5 128.95 L1366.79 129.75 L1375.08 130.55 L1383.38 131.34 L1391.67 132.12 L1399.96 132.89 L1408.25 133.65 L1416.54 134.39 L1424.83 135.12 L1433.12 135.83 L1441.42 136.52 L1449.71 137.18 L1458 137.82 L1466.29 138.43 L1474.58 139.01 L1482.88 139.57 L1491.17 140.1 L1499.46 140.61 L1507.75 141.09 L1516.04 141.55 L1524.33 141.99 L1532.62 142.4 L1540.92 142.79 L1549.21 143.16 L1557.5 143.51 L1565.79 143.84 L1574.08 144.15 L1582.37 144.44 L1590.67 144.71 L1598.96 144.97 L1607.25 145.21 L1615.54 145.43 L1623.83 145.64 L1632.12 145.83 L1640.42 146.01 L1648.71 146.18 L1657 146.33 L1665.29 146.47 L1673.56 146.6 L1681.81 146.71 L1690.01 146.82 L1698.16 146.92 L1706.23 147 L1714.22 147.08 L1722.1 147.15 L1729.88 147.21 L1737.52 147.26 L1745.01 147.31 L1752.35 147.35 L1759.52 147.38 L1766.5 147.41 L1773.28 147.43 L1779.84 147.45 L1786.17 147.47 L1792.26 147.48 L1798.09 147.49 L1803.64 147.49 L1808.91 147.49 L1813.87 147.5 L1818.52 147.5 L1822.83 147.5 L1826.81 147.5 L1830.45 147.5 L1833.78 147.5 L1836.81 147.5 L1839.54 147.5 L1842.01 147.5 L1844.21 147.5 L1846.17 147.5 L1847.9 147.5 L1849.42 147.5 L1850.73 147.5 L1851.85 147.5 L1852.81 147.5 L1853.6 147.5 L1854.25 147.5 L1854.77 147.5 L1855.18 147.5 L1855.48 147.5 L1855.7 147.5 L1855.85 147.5 L1855.94 147.5 L1855.98 147.5 L1856 147.5 L1856 147.5" fill="none" stroke="#FF2050" stroke-width="9" stroke-linecap="round" stroke-linejoin="round"/>
<path d="M264 73.25L280.25 103.35L247.75 103.35Z" fill="#fff" stroke="#FF2050" stroke-width="7.2" stroke-linejoin="round"/>
<path d="M463 81.66L479.25 111.76L446.75 111.76Z" fill="#fff" stroke="#FF2050" stroke-width="7.2" stroke-linejoin="round"/>
<path d="M662 85.03L678.25 115.13L645.75 115.13Z" fill="#fff" stroke="#FF2050" stroke-width="7.2" stroke-linejoin="round"/>
<path d="M861 88.54L877.25 118.64L844.75 118.64Z" fill="#fff" stroke="#FF2050" stroke-width="7.2" stroke-linejoin="round"/>
<path d="M1060 88.82L1076.25 118.92L1043.75 118.92Z" fill="#fff" stroke="#FF2050" stroke-width="7.2" stroke-linejoin="round"/>
<path d="M1259 97.23L1275.25 127.33L1242.75 127.33Z" fill="#fff" stroke="#FF2050" stroke-width="7.2" stroke-linejoin="round"/>
<path d="M1458 120.23L1474.25 150.33L1441.75 150.33Z" fill="#fff" stroke="#FF2050" stroke-width="7.2" stroke-linejoin="round"/>
<path d="M1657 127.25L1673.25 157.35L1640.75 157.35Z" fill="#fff" stroke="#FF2050" stroke-width="7.2" stroke-linejoin="round"/>
<path d="M1856 127.25L1872.25 157.35L1839.75 157.35Z" fill="#fff" stroke="#FF2050" stroke-width="7.2" stroke-linejoin="round"/>
</g>
<g>
<path d="M264 93.5 L264 93.5 L264.02 93.5 L264.06 93.5 L264.15 93.51 L264.3 93.51 L264.52 93.52 L264.82 93.53 L265.23 93.54 L265.75 93.56 L266.4 93.59 L267.19 93.61 L268.15 93.65 L269.27 93.69 L270.58 93.74 L272.1 93.79 L273.83 93.85 L275.79 93.92 L277.99 94 L280.46 94.09 L283.19 94.19 L286.22 94.3 L289.55 94.42 L293.19 94.55 L297.17 94.69 L301.48 94.85 L306.13 95.01 L311.09 95.19 L316.36 95.38 L321.91 95.57 L327.74 95.77 L333.83 95.98 L340.16 96.19 L346.72 96.41 L353.5 96.63 L360.48 96.85 L367.65 97.07 L374.99 97.3 L382.48 97.52 L390.12 97.74 L397.9 97.95 L405.78 98.16 L413.77 98.37 L421.84 98.57 L429.99 98.76 L438.19 98.95 L446.44 99.12 L454.71 99.28 L463 99.44 L471.29 99.58 L479.58 99.71 L487.87 99.82 L496.17 99.93 L504.46 100.03 L512.75 100.12 L521.04 100.21 L529.33 100.29 L537.62 100.37 L545.92 100.44 L554.21 100.51 L562.5 100.58 L570.79 100.65 L579.08 100.72 L587.38 100.79 L595.67 100.86 L603.96 100.94 L612.25 101.02 L620.54 101.11 L628.83 101.21 L637.12 101.31 L645.42 101.42 L653.71 101.55 L662 101.68 L670.29 101.83 L678.58 101.98 L686.88 102.15 L695.17 102.33 L703.46 102.52 L711.75 102.71 L720.04 102.91 L728.33 103.12 L736.62 103.33 L744.92 103.55 L753.21 103.77 L761.5 103.99 L769.79 104.22 L778.08 104.44 L786.37 104.67 L794.67 104.89 L802.96 105.12 L811.25 105.34 L819.54 105.56 L827.83 105.77 L836.12 105.98 L844.42 106.18 L852.71 106.38 L861 106.57 L869.29 106.75 L877.58 106.92 L885.87 107.08 L894.17 107.24 L902.46 107.38 L910.75 107.53 L919.04 107.66 L927.33 107.78 L935.62 107.9 L943.92 108.02 L952.21 108.12 L960.5 108.22 L968.79 108.32 L977.08 108.41 L985.38 108.49 L993.67 108.57 L1001.96 108.64 L1010.25 108.71 L1018.54 108.77 L1026.83 108.83 L1035.12 108.88 L1043.42 108.93 L1051.71 108.98 L1060 109.02 L1068.29 109.06 L1076.58 109.1 L1084.88 109.13 L1093.17 109.16 L1101.46 109.2 L1109.75 109.23 L1118.04 109.26 L1126.33 109.3 L1134.62 109.33 L1142.92 109.37 L1151.21 109.41 L1159.5 109.46 L1167.79 109.51 L1176.08 109.57 L1184.38 109.63 L1192.67 109.7 L1200.96 109.77 L1209.25 109.86 L1217.54 109.95 L1225.83 110.05 L1234.12 110.16 L1242.42 110.28 L1250.71 110.42 L1259 110.56 L1267.29 110.72 L1275.58 110.89 L1283.87 111.07 L1292.17 111.27 L1300.46 111.47 L1308.75 111.68 L1317.04 111.9 L1325.33 112.13 L1333.62 112.37 L1341.92 112.61 L1350.21 112.86 L1358.5 113.12 L1366.79 113.38 L1375.08 113.65 L1383.38 113.92 L1391.67 114.19 L1399.96 114.47 L1408.25 114.75 L1416.54 115.03 L1424.83 115.31 L1433.12 115.59 L1441.42 115.87 L1449.71 116.15 L1458 116.43 L1466.29 116.71 L1474.58 116.98 L1482.88 117.25 L1491.17 117.52 L1499.46 117.79 L1507.75 118.05 L1516.04 118.31 L1524.33 118.56 L1532.62 118.82 L1540.92 119.06 L1549.21 119.31 L1557.5 119.55 L1565.79 119.78 L1574.08 120.01 L1582.37 120.23 L1590.67 120.45 L1598.96 120.67 L1607.25 120.88 L1615.54 121.08 L1623.83 121.27 L1632.12 121.46 L1640.42 121.65 L1648.71 121.82 L1657 121.99 L1665.29 122.16 L1673.56 122.31 L1681.81 122.46 L1690.01 122.61 L1698.16 122.74 L1706.23 122.87 L1714.22 123 L1722.1 123.11 L1729.88 123.23 L1737.52 123.33 L1745.01 123.43 L1752.35 123.53 L1759.52 123.62 L1766.5 123.7 L1773.28 123.78 L1779.84 123.86 L1786.17 123.93 L1792.26 124 L1798.09 124.06 L1803.64 124.12 L1808.91 124.17 L1813.87 124.22 L1818.52 124.27 L1822.83 124.31 L1826.81 124.35 L1830.45 124.38 L1833.78 124.42 L1836.81 124.45 L1839.54 124.47 L1842.01 124.5 L1844.21 124.52 L1846.17 124.54 L1847.9 124.56 L1849.42 124.57 L1850.73 124.58 L1851.85 124.59 L1852.81 124.6 L1853.6 124.61 L1854.25 124.62 L1854.77 124.62 L1855.18 124.63 L1855.48 124.63 L1855.7 124.63 L1855.85 124.63 L1855.94 124.63 L1855.98 124.64 L1856 124.64 L1856 124.64" fill="none" stroke="#0068B0" stroke-width="9" stroke-linecap="round" stroke-linejoin="round"/>
<path d="M264 113.75L280.25 83.65L247.75 83.65Z" fill="#0068B0" stroke="#0068B0" stroke-width="7.2" stroke-linejoin="round"/>
<path d="M463 120.9L479.25 90.8L446.75 90.8Z" fill="#0068B0" stroke="#0068B0" stroke-width="7.2" stroke-linejoin="round"/>
<path d="M662 120.76L678.25 90.66L645.75 90.66Z" fill="#0068B0" stroke="#0068B0" stroke-width="7.2" stroke-linejoin="round"/>
<path d="M861 127.63L877.25 97.53L844.75 97.53Z" fill="#0068B0" stroke="#0068B0" stroke-width="7.2" stroke-linejoin="round"/>
<path d="M1060 129.6L1076.25 99.5L1043.75 99.5Z" fill="#0068B0" stroke="#0068B0" stroke-width="7.2" stroke-linejoin="round"/>
<path d="M1259 129.6L1275.25 99.5L1242.75 99.5Z" fill="#0068B0" stroke="#0068B0" stroke-width="7.2" stroke-linejoin="round"/>
<path d="M1458 136.89L1474.25 106.79L1441.75 106.79Z" fill="#0068B0" stroke="#0068B0" stroke-width="7.2" stroke-linejoin="round"/>
<path d="M1657 142.92L1673.25 112.82L1640.75 112.82Z" fill="#0068B0" stroke="#0068B0" stroke-width="7.2" stroke-linejoin="round"/>
<path d="M1856 144.89L1872.25 114.79L1839.75 114.79Z" fill="#0068B0" stroke="#0068B0" stroke-width="7.2" stroke-linejoin="round"/>
</g>
<g>
<path d="M264 93.5 L264 93.5 L264.02 93.5 L264.06 93.5 L264.15 93.51 L264.3 93.51 L264.52 93.52 L264.82 93.54 L265.23 93.55 L265.75 93.58 L266.4 93.61 L267.19 93.64 L268.15 93.68 L269.27 93.73 L270.58 93.79 L272.1 93.86 L273.83 93.94 L275.79 94.02 L277.99 94.12 L280.46 94.23 L283.19 94.35 L286.22 94.49 L289.55 94.63 L293.19 94.8 L297.17 94.97 L301.48 95.16 L306.13 95.37 L311.09 95.59 L316.36 95.82 L321.91 96.07 L327.74 96.32 L333.83 96.59 L340.16 96.86 L346.72 97.14 L353.5 97.43 L360.48 97.73 L367.65 98.03 L374.99 98.34 L382.48 98.65 L390.12 98.97 L397.9 99.29 L405.78 99.6 L413.77 99.92 L421.84 100.24 L429.99 100.56 L438.19 100.87 L446.44 101.19 L454.71 101.49 L463 101.8 L471.29 102.1 L479.58 102.39 L487.87 102.68 L496.17 102.96 L504.46 103.24 L512.75 103.51 L521.04 103.78 L529.33 104.05 L537.62 104.31 L545.92 104.57 L554.21 104.82 L562.5 105.07 L570.79 105.32 L579.08 105.57 L587.38 105.81 L595.67 106.06 L603.96 106.3 L612.25 106.53 L620.54 106.77 L628.83 107.01 L637.12 107.24 L645.42 107.48 L653.71 107.71 L662 107.95 L670.29 108.18 L678.58 108.41 L686.88 108.65 L695.17 108.88 L703.46 109.11 L711.75 109.34 L720.04 109.57 L728.33 109.79 L736.62 110.02 L744.92 110.24 L753.21 110.46 L761.5 110.67 L769.79 110.88 L778.08 111.09 L786.37 111.3 L794.67 111.5 L802.96 111.7 L811.25 111.89 L819.54 112.07 L827.83 112.26 L836.12 112.43 L844.42 112.6 L852.71 112.77 L861 112.92 L869.29 113.08 L877.58 113.22 L885.87 113.36 L894.17 113.5 L902.46 113.64 L910.75 113.77 L919.04 113.9 L927.33 114.03 L935.62 114.16 L943.92 114.3 L952.21 114.43 L960.5 114.57 L968.79 114.72 L977.08 114.87 L985.38 115.02 L993.67 115.18 L1001.96 115.35 L1010.25 115.53 L1018.54 115.72 L1026.83 115.92 L1035.12 116.14 L1043.42 116.36 L1051.71 116.6 L1060 116.85 L1068.29 117.12 L1076.58 117.4 L1084.88 117.7 L1093.17 118.01 L1101.46 118.33 L1109.75 118.66 L1118.04 119.01 L1126.33 119.36 L1134.62 119.72 L1142.92 120.1 L1151.21 120.48 L1159.5 120.87 L1167.79 121.26 L1176.08 121.66 L1184.38 122.07 L1192.67 122.48 L1200.96 122.89 L1209.25 123.31 L1217.54 123.73 L1225.83 124.15 L1234.12 124.57 L1242.42 124.99 L1250.71 125.41 L1259 125.83 L1267.29 126.24 L1275.58 126.66 L1283.87 127.07 L1292.17 127.48 L1300.46 127.88 L1308.75 128.28 L1317.04 128.68 L1325.33 129.07 L1333.62 129.46 L1341.92 129.84 L1350.21 130.22 L1358.5 130.59 L1366.79 130.95 L1375.08 131.31 L1383.38 131.66 L1391.67 132 L1399.96 132.34 L1408.25 132.67 L1416.54 132.99 L1424.83 133.3 L1433.12 133.6 L1441.42 133.9 L1449.71 134.18 L1458 134.45 L1466.29 134.72 L1474.58 134.97 L1482.88 135.21 L1491.17 135.45 L1499.46 135.67 L1507.75 135.89 L1516.04 136.09 L1524.33 136.29 L1532.62 136.48 L1540.92 136.66 L1549.21 136.83 L1557.5 136.99 L1565.79 137.15 L1574.08 137.29 L1582.37 137.43 L1590.67 137.56 L1598.96 137.69 L1607.25 137.8 L1615.54 137.91 L1623.83 138.01 L1632.12 138.11 L1640.42 138.2 L1648.71 138.28 L1657 138.36 L1665.29 138.43 L1673.56 138.49 L1681.81 138.55 L1690.01 138.6 L1698.16 138.65 L1706.23 138.69 L1714.22 138.73 L1722.1 138.77 L1729.88 138.8 L1737.52 138.83 L1745.01 138.85 L1752.35 138.87 L1759.52 138.88 L1766.5 138.9 L1773.28 138.91 L1779.84 138.92 L1786.17 138.93 L1792.26 138.93 L1798.09 138.94 L1803.64 138.94 L1808.91 138.94 L1813.87 138.94 L1818.52 138.94 L1822.83 138.94 L1826.81 138.94 L1830.45 138.94 L1833.78 138.94 L1836.81 138.94 L1839.54 138.94 L1842.01 138.94 L1844.21 138.94 L1846.17 138.94 L1847.9 138.94 L1849.42 138.94 L1850.73 138.94 L1851.85 138.94 L1852.81 138.94 L1853.6 138.94 L1854.25 138.94 L1854.77 138.94 L1855.18 138.94 L1855.48 138.94 L1855.7 138.94 L1855.85 138.94 L1855.94 138.94 L1855.98 138.94 L1856 138.94 L1856 138.94" fill="none" stroke="#0080FF" stroke-width="9" stroke-linecap="round" stroke-linejoin="round"/>
<rect x="252.5" y="81.7" width="23" height="23.6" fill="#fff" stroke="#0080FF" stroke-width="7" stroke-linejoin="round"/>
<rect x="451.5" y="90.54" width="23" height="23.6" fill="#fff" stroke="#0080FF" stroke-width="7" stroke-linejoin="round"/>
<rect x="650.5" y="96.15" width="23" height="23.6" fill="#fff" stroke="#0080FF" stroke-width="7" stroke-linejoin="round"/>
<rect x="849.5" y="101.76" width="23" height="23.6" fill="#fff" stroke="#0080FF" stroke-width="7" stroke-linejoin="round"/>
<rect x="1048.5" y="103.58" width="23" height="23.6" fill="#fff" stroke="#0080FF" stroke-width="7" stroke-linejoin="round"/>
<rect x="1247.5" y="114.24" width="23" height="23.6" fill="#fff" stroke="#0080FF" stroke-width="7" stroke-linejoin="round"/>
<rect x="1446.5" y="123.63" width="23" height="23.6" fill="#fff" stroke="#0080FF" stroke-width="7" stroke-linejoin="round"/>
<rect x="1645.5" y="127.14" width="23" height="23.6" fill="#fff" stroke="#0080FF" stroke-width="7" stroke-linejoin="round"/>
<rect x="1844.5" y="127.14" width="23" height="23.6" fill="#fff" stroke="#0080FF" stroke-width="7" stroke-linejoin="round"/>
</g>
</g>
<g id="axes" fill="#000" shape-rendering="crispEdges">
<rect x="210" y="22" width="1849" height="5"/>
<rect x="210" y="22" width="9" height="1478"/>
<rect x="2051" y="22" width="8" height="1478"/>
<rect x="210" y="1492" width="1849" height="8"/>
<path d="M210 1498v2h2v-1h-1v-1zM2059 1498v2h-2v-1h1v-1z" fill="#fff"/>
</g>
<g id="ticks" stroke="#000" stroke-linecap="round" fill="none" shape-rendering="crispEdges">
<line x1="215" y1="1355.75" x2="224.5" y2="1355.75" stroke-width="9"/>
<line x1="215" y1="1215.5" x2="234.5" y2="1215.5" stroke-width="9"/>
<line x1="215" y1="1075.25" x2="224.5" y2="1075.25" stroke-width="9"/>
<line x1="215" y1="935" x2="234.5" y2="935" stroke-width="9"/>
<line x1="215" y1="794.75" x2="224.5" y2="794.75" stroke-width="9"/>
<line x1="215" y1="654.5" x2="234.5" y2="654.5" stroke-width="9"/>
<line x1="215" y1="514.25" x2="224.5" y2="514.25" stroke-width="9"/>
<line x1="215" y1="374" x2="234.5" y2="374" stroke-width="9"/>
<line x1="215" y1="233.75" x2="224.5" y2="233.75" stroke-width="9"/>
<line x1="215" y1="93.5" x2="234.5" y2="93.5" stroke-width="9"/>
<line x1="264" y1="1495" x2="264" y2="1476" stroke-width="8.5"/>
<line x1="363.5" y1="1495" x2="363.5" y2="1486" stroke-width="8.5"/>
<line x1="463" y1="1495" x2="463" y2="1476" stroke-width="8.5"/>
<line x1="562.5" y1="1495" x2="562.5" y2="1486" stroke-width="8.5"/>
<line x1="662" y1="1495" x2="662" y2="1476" stroke-width="8.5"/>
<line x1="761.5" y1="1495" x2="761.5" y2="1486" stroke-width="8.5"/>
<line x1="861" y1="1495" x2="861" y2="1476" stroke-width="8.5"/>
<line x1="960.5" y1="1495" x2="960.5" y2="1486" stroke-width="8.5"/>
<line x1="1060" y1="1495" x2="1060" y2="1476" stroke-width="8.5"/>
<line x1="1159.5" y1="1495" x2="1159.5" y2="1486" stroke-width="8.5"/>
<line x1="1259" y1="1495" x2="1259" y2="1476" stroke-width="8.5"/>
<line x1="1358.5" y1="1495" x2="1358.5" y2="1486" stroke-width="8.5"/>
<line x1="1458" y1="1495" x2="1458" y2="1476" stroke-width="8.5"/>
<line x1="1557.5" y1="1495" x2="1557.5" y2="1486" stroke-width="8.5"/>
<line x1="1657" y1="1495" x2="1657" y2="1476" stroke-width="8.5"/>
<line x1="1756.5" y1="1495" x2="1756.5" y2="1486" stroke-width="8.5"/>
<line x1="1856" y1="1495" x2="1856" y2="1476" stroke-width="8.5"/>
<line x1="1955.5" y1="1495" x2="1955.5" y2="1486" stroke-width="8.5"/>
</g>
<g id="ticklabels" font-size="66" filter="url(#bw)">
<text transform="translate(194,1516) scale(1,1.08)" text-anchor="end">0.0</text>
<text transform="translate(194,1234.75) scale(1,1.08)" text-anchor="end">0.2</text>
<text transform="translate(194,954.25) scale(1,1.08)" text-anchor="end">0.4</text>
<text transform="translate(194,673.75) scale(1,1.08)" text-anchor="end">0.6</text>
<text transform="translate(194,393.25) scale(1,1.08)" text-anchor="end">0.8</text>
<text transform="translate(194,112.75) scale(1,1.08)" text-anchor="end">1.0</text>
<text transform="translate(265,1570.5) scale(1,1.08)" text-anchor="middle">0</text>
<text transform="translate(464,1570.5) scale(1,1.08)" text-anchor="middle">2</text>
<text transform="translate(663,1570.5) scale(1,1.08)" text-anchor="middle">4</text>
<text transform="translate(862,1570.5) scale(1,1.08)" text-anchor="middle">6</text>
<text transform="translate(1061,1570.5) scale(1,1.08)" text-anchor="middle">8</text>
<text transform="translate(1260,1570.5) scale(1,1.08)" text-anchor="middle">10</text>
<text transform="translate(1459,1570.5) scale(1,1.08)" text-anchor="middle">12</text>
<text transform="translate(1658,1570.5) scale(1,1.08)" text-anchor="middle">14</text>
<text transform="translate(1857,1570.5) scale(1,1.08)" text-anchor="middle">16</text>
<text transform="translate(2056,1570.5) scale(1,1.08)" text-anchor="middle">18</text>
</g>
<g id="titles" filter="url(#bw)">
<text transform="translate(1134.5,1668.6) scale(1,1.02)" font-size="79.5" text-anchor="middle">t (min)</text>
<text transform="translate(71,898) rotate(-90) scale(1,1.02)" font-size="79.5">C<tspan font-size="46" dy="30">t</tspan><tspan dy="-30">/C</tspan><tspan font-size="46" dy="30">0</tspan></text>
</g>
<g id="legend">
<g shape-rendering="crispEdges"><line x1="1320.5" y1="248.55" x2="1508.5" y2="248.55" stroke="#0068B0" stroke-width="8.6" stroke-linecap="round"/><rect x="1402.8" y="236.75" width="23" height="23.6" fill="#fff" stroke="#0068B0" stroke-width="7" stroke-linejoin="round"/></g>
<g shape-rendering="crispEdges"><line x1="1320.5" y1="353.21" x2="1508.5" y2="353.21" stroke="#0080FF" stroke-width="8.6" stroke-linecap="round"/><circle cx="1414.3" cy="353.21" r="17.1" fill="#0080FF"/></g>
<g shape-rendering="crispEdges"><line x1="1320.5" y1="457.87" x2="1508.5" y2="457.87" stroke="#B23CFF" stroke-width="8.6" stroke-linecap="round"/><path d="M1414.3 437.62L1430.55 467.72L1398.05 467.72Z" fill="#fff" stroke="#B23CFF" stroke-width="7.2" stroke-linejoin="round"/></g>
<g shape-rendering="crispEdges"><line x1="1320.5" y1="562.53" x2="1508.5" y2="562.53" stroke="#008000" stroke-width="8.6" stroke-linecap="round"/><path d="M1414.3 582.78L1430.55 552.68L1398.05 552.68Z" fill="#008000" stroke="#008000" stroke-width="7.2" stroke-linejoin="round"/></g>
<g shape-rendering="crispEdges"><line x1="1320.5" y1="667.19" x2="1508.5" y2="667.19" stroke="#00D21E" stroke-width="8.6" stroke-linecap="round"/><rect x="1402.8" y="655.39" width="23" height="23.6" fill="#fff" stroke="#00D21E" stroke-width="7" stroke-linejoin="round"/></g>
<g shape-rendering="crispEdges"><line x1="1320.5" y1="771.85" x2="1508.5" y2="771.85" stroke="#FF9912" stroke-width="8.6" stroke-linecap="round"/><circle cx="1414.3" cy="771.85" r="17.1" fill="#FF9912"/></g>
<g shape-rendering="crispEdges"><line x1="1320.5" y1="876.51" x2="1508.5" y2="876.51" stroke="#FF2050" stroke-width="8.6" stroke-linecap="round"/><path d="M1414.3 856.26L1430.55 886.36L1398.05 886.36Z" fill="#fff" stroke="#FF2050" stroke-width="7.2" stroke-linejoin="round"/></g>
<g shape-rendering="crispEdges"><line x1="1320.5" y1="981.17" x2="1508.5" y2="981.17" stroke="#0068B0" stroke-width="8.6" stroke-linecap="round"/><path d="M1414.3 1001.42L1430.55 971.32L1398.05 971.32Z" fill="#0068B0" stroke="#0068B0" stroke-width="7.2" stroke-linejoin="round"/></g>
<g shape-rendering="crispEdges"><line x1="1320.5" y1="1085.83" x2="1508.5" y2="1085.83" stroke="#0080FF" stroke-width="8.6" stroke-linecap="round"/><rect x="1402.8" y="1074.03" width="23" height="23.6" fill="#fff" stroke="#0080FF" stroke-width="7" stroke-linejoin="round"/></g>
</g>
<g id="legendlabels" font-size="85.2" filter="url(#bw)">
<text transform="translate(1530,277.15) scale(1,1.02)">pH 1.0</text>
<text transform="translate(1530,381.81) scale(1,1.02)">pH 2.0</text>
<text transform="translate(1530,486.47) scale(1,1.02)">pH 3.0</text>
<text transform="translate(1530,591.13) scale(1,1.02)">pH 4.0</text>
<text transform="translate(1530,695.79) scale(1,1.02)">pH 5.0</text>
<text transform="translate(1530,800.45) scale(1,1.02)">pH 6.0</text>
<text transform="translate(1530,905.11) scale(1,1.02)">pH 7.0</text>
<text transform="translate(1530,1009.77) scale(1,1.02)">pH 8.0</text>
<text transform="translate(1530,1114.43) scale(1,1.02)">pH 9.0</text>
</g>
</svg>
</body></html>
